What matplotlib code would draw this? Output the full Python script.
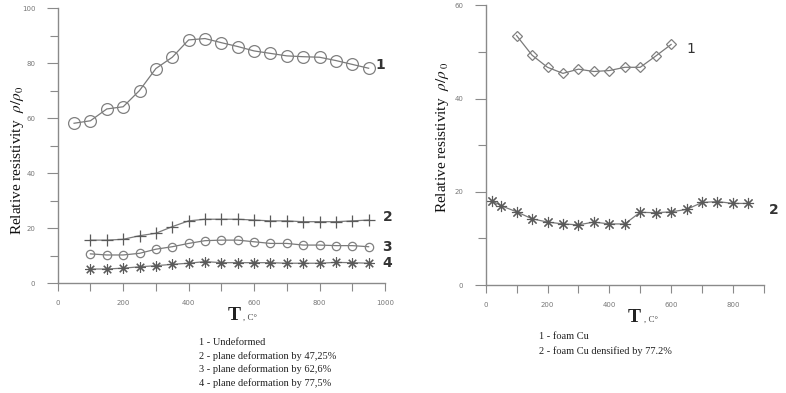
import matplotlib
matplotlib.use("Agg")
import matplotlib.pyplot as plt
import numpy as np

plt.rcParams['mathtext.fontset'] = 'stix'

# Left panel data
T1 = [50, 100, 150, 200, 250, 300, 350, 400, 450, 500, 550, 600, 650, 700, 750, 800, 850, 900, 950]
undeformed = [58.2, 59.1, 63.4, 64.2, 70.1, 78.1, 82.2, 88.5, 89.0, 87.5, 86.1, 84.5, 83.6, 82.7, 82.4, 82.2, 81.0, 79.6, 78.2]
T2 = [100, 150, 200, 250, 300, 350, 400, 450, 500, 550, 600, 650, 700, 750, 800, 850, 900, 950]
def_47 = [15.7, 15.7, 16.0, 17.3, 18.2, 20.6, 22.7, 23.3, 23.3, 23.3, 23.0, 22.7, 22.7, 22.4, 22.4, 22.4, 22.7, 23.0]
def_62 = [10.7, 10.3, 10.3, 10.9, 12.4, 13.3, 14.5, 15.5, 15.7, 15.7, 15.1, 14.5, 14.5, 13.9, 13.9, 13.7, 13.7, 13.3]
def_77 = [5.2, 5.2, 5.5, 6.0, 6.4, 6.9, 7.3, 7.9, 7.5, 7.5, 7.5, 7.5, 7.3, 7.3, 7.3, 7.6, 7.5, 7.3]
left_labels = ["1", "2", "3", "4"]
left_legend = ["1 - Undeformed",
               "2 - plane deformation by 47,25%",
               "3 - plane deformation by 62,6%",
               "4 - plane deformation by 77,5%"]

# Right panel data
Tf1 = [100, 150, 200, 250, 300, 350, 400, 450, 500, 550, 600]
foam = [53.5, 49.3, 46.7, 45.4, 46.3, 45.8, 46.0, 46.7, 46.7, 49.1, 51.6]
Tf2 = [20, 50, 100, 150, 200, 250, 300, 350, 400, 450, 500, 550, 600, 650, 700, 750, 800, 850]
foam_dens = [18.1, 17.0, 15.7, 14.2, 13.5, 13.1, 12.9, 13.5, 13.1, 13.1, 15.6, 15.5, 15.7, 16.2, 17.7, 17.9, 17.5, 17.5]
right_legend = ["1 - foam Cu", "2 - foam Cu densified by 77.2%"]

W, H = 786, 393
fig = plt.figure(figsize=(7.86, 3.93), dpi=100)

lc = "#7a7a7a"
ec = "#808080"
tick_c = "#8a8a8a"

def style_axes(ax):
    for s in ["top", "right"]:
        ax.spines[s].set_visible(False)
    for s in ["left", "bottom"]:
        ax.spines[s].set_color(tick_c)
        ax.spines[s].set_linewidth(1.0)
    ax.tick_params(axis="both", which="both", colors=tick_c, labelsize=5, width=0.8,
                   labelcolor="#777777")
    ax.tick_params(axis="both", which="major", length=8)
    ax.tick_params(axis="both", which="minor", length=6)
    ax.tick_params(axis="x", which="both", length=6, pad=6)
    ax.tick_params(axis="y", pad=8)

# ---------- Left axes ----------
axL = fig.add_axes([57.7 / W, 1 - 283.3 / H, (385 - 57.7) / W, (283.3 - 8.3) / H])
axL.set_xlim(0, 1000)
axL.set_ylim(0, 100)
axL.set_xticks(np.arange(0, 1001, 200))
axL.set_xticks(np.arange(0, 1001, 100), minor=True)
axL.set_yticks(np.arange(0, 101, 20))
axL.set_yticks(np.arange(0, 101, 10), minor=True)
axL.patch.set_alpha(0)
style_axes(axL)

axL.plot(T1, undeformed, color=lc, lw=0.9, marker="o", ms=8.5, mfc="none", mec=ec, mew=0.9, clip_on=False)
axL.plot(T2, def_47, color=lc, lw=0.9, marker="+", ms=8.5, mec="#5a5a5a", mew=0.9, clip_on=False)
axL.plot(T2, def_62, color=lc, lw=0.9, marker="o", ms=6, mfc="none", mec=ec, mew=0.9, clip_on=False)
axL.plot(T2, def_77, color=lc, lw=0.9, marker=(8, 2, 0), ms=7.5, mec="#5a5a5a", mew=0.8, clip_on=False)

for lab, xs, ys, dx, dy in zip(left_labels, [T1, T2, T2, T2], [undeformed, def_47, def_62, def_77],
                               [5, 10, 10, 10], [2, 2, 0, 0]):
    axL.annotate(lab, (xs[-1], ys[-1]), xytext=(dx, dy), textcoords="offset points",
                 fontsize=10, fontweight="bold", color="#333333", va="center", ha="left",
                 family="DejaVu Sans")

fig.text(18 / W, 1 - 160 / H, r"Relative resistivity  $\rho/\rho_0$", rotation=90,
         ha="center", va="center", fontsize=11, family="Liberation Serif",
         color="#111111")
fig.text(241 / W, 1 - 320 / H, "T", fontsize=14, family="Liberation Serif", fontweight="bold",
         ha="right", va="baseline", color="#222222")
fig.text(243 / W, 1 - 320 / H, ", C°", fontsize=6.5, family="Liberation Serif",
         ha="left", va="baseline", color="#444444")
for i, t in enumerate(left_legend):
    fig.text(199 / W, 1 - (345 + 13.7 * i) / H, t, fontsize=7.5, family="Liberation Serif",
             ha="left", va="baseline", color="#222222")

# ---------- Right axes ----------
axR = fig.add_axes([485.7 / W, 1 - 285 / H, (763.8 - 485.7) / W, (285 - 5.3) / H])
axR.set_xlim(0, 900)
axR.set_ylim(0, 60)
axR.set_xticks(np.arange(0, 801, 200))
axR.set_xticks(np.arange(0, 901, 100), minor=True)
axR.set_yticks(np.arange(0, 61, 20))
axR.set_yticks(np.arange(0, 61, 10), minor=True)
axR.patch.set_alpha(0)
style_axes(axR)

axR.plot(Tf1, foam, color=lc, lw=0.9, marker="D", ms=5, mfc="none", mec=ec, mew=0.9, clip_on=False)
axR.plot(Tf2, foam_dens, color=lc, lw=0.9, marker=(8, 2, 0), ms=8, mec="#5a5a5a", mew=0.8, clip_on=False)

axR.annotate("1", (Tf1[-1], foam[-1]), xytext=(11, -3), textcoords="offset points",
             fontsize=10, color="#333333", va="center", ha="left", family="DejaVu Sans")
axR.annotate("2", (Tf2[-1], foam_dens[-1]), xytext=(15, -5), textcoords="offset points",
             fontsize=10, fontweight="bold", color="#333333", va="center", ha="left",
             family="DejaVu Sans")

fig.text(443 / W, 1 - 137 / H, r"Relative resistivity  $\rho/\rho_{\ 0}$", rotation=90,
         ha="center", va="center", fontsize=11, family="Liberation Serif",
         color="#111111")
fig.text(641 / W, 1 - 322 / H, "T", fontsize=14, family="Liberation Serif", fontweight="bold",
         ha="right", va="baseline", color="#222222")
fig.text(644 / W, 1 - 322 / H, ", C°", fontsize=6.5, family="Liberation Serif",
         ha="left", va="baseline", color="#444444")
for i, t in enumerate(right_legend):
    fig.text(539 / W, 1 - (339 + 15 * i) / H, t, fontsize=7.5, family="Liberation Serif",
             ha="left", va="baseline", color="#222222")

fig.savefig("out.png", dpi=100, facecolor="white")
